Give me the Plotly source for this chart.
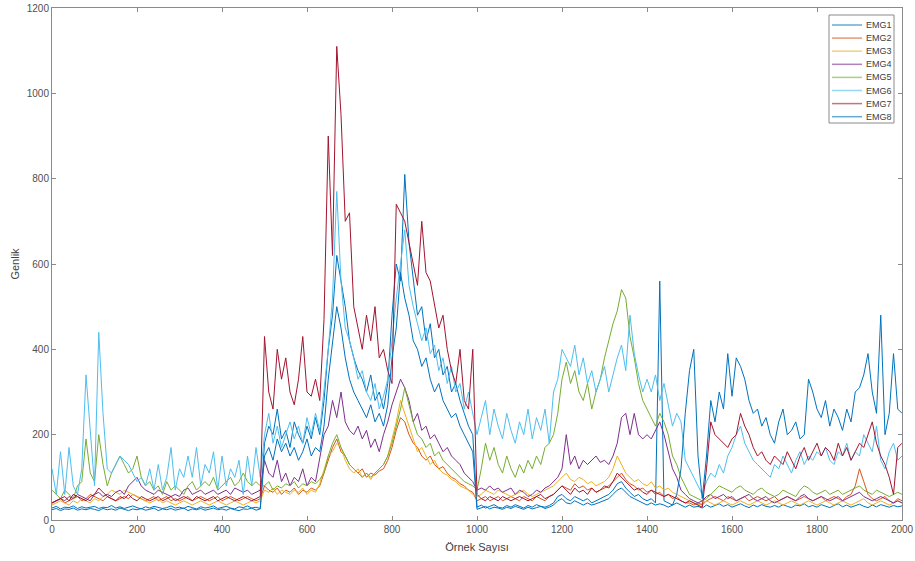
import plotly.graph_objects as go

samples = list(range(0, 2001, 10))

emg1 = [28,32,26,30,29,33,27,31,28,30,
        32,27,30,29,34,28,31,27,30,33,
        29,26,31,28,32,30,27,29,33,28,
        30,27,32,29,26,31,28,30,33,27,
        29,32,28,26,31,29,33,28,30,27,
        180,220,200,260,190,210,170,230,200,180,
        220,190,240,200,280,400,480,620,560,500,
        420,380,350,330,300,340,280,300,260,320,
        480,600,560,810,650,560,480,500,420,460,
        380,400,340,360,300,320,280,250,220,200,
        30,35,28,32,36,30,28,34,30,36,
        32,28,34,30,36,32,30,34,40,55,
        60,50,45,55,50,45,50,40,45,50,
        55,60,70,85,90,75,65,55,60,50,
        45,50,40,560,45,40,35,40,35,30,
        35,30,32,28,35,30,34,38,32,36,
        30,34,38,33,29,35,31,36,32,30,
        34,30,36,32,29,35,33,38,31,34,
        30,36,32,29,34,38,31,35,30,33,
        37,32,29,35,31,36,33,30,34,31,
        33]

emg2 = [40,45,50,40,45,50,55,45,50,60,
        55,50,45,55,50,45,50,55,50,60,
        55,50,45,50,55,45,50,55,45,50,
        45,50,55,45,50,55,50,45,50,55,
        45,50,55,50,45,50,55,50,45,50,
        80,70,65,75,60,70,65,75,60,70,
        65,75,70,80,110,140,170,190,160,150,
        130,120,110,120,100,110,105,115,120,140,
        170,210,240,230,200,180,170,150,140,150,
        130,120,125,110,100,95,85,80,70,65,
        45,50,55,45,50,55,45,50,55,50,
        45,55,50,45,55,50,45,55,60,70,
        80,75,70,85,75,80,70,75,65,70,
        75,80,90,100,110,95,85,80,70,75,
        65,70,60,65,55,60,50,55,45,40,
        40,35,40,35,45,50,55,50,45,55,
        50,45,50,55,45,50,55,50,45,50,
        55,45,50,55,50,45,50,55,50,45,
        50,55,45,50,55,50,45,55,60,80,
        120,90,60,50,45,50,55,45,40,50,
        45]

emg3 = [35,40,45,40,35,45,40,50,45,40,
        50,45,55,60,70,65,60,70,65,60,
        55,50,45,40,45,50,40,45,40,35,
        40,45,40,35,40,45,40,35,40,45,
        40,35,40,45,40,35,40,45,40,45,
        70,65,75,60,70,65,60,70,65,75,
        60,70,65,85,120,150,160,180,170,140,
        120,110,120,100,110,95,110,120,130,150,
        190,230,280,250,220,190,160,170,150,130,
        140,120,110,105,95,90,80,75,70,60,
        55,60,70,65,60,70,65,60,55,60,
        65,70,60,55,60,65,70,75,80,90,
        100,110,95,90,100,95,85,90,80,85,
        90,100,120,150,130,110,100,90,95,85,
        80,90,75,80,70,75,65,60,55,50,
        45,40,35,40,45,40,35,40,45,40,
        35,40,45,40,35,40,45,40,35,40,
        45,40,35,40,45,40,35,40,45,40,
        35,40,45,40,35,40,45,40,35,40,
        45,50,40,35,40,45,40,35,40,45,
        40]

emg4 = [40,45,50,45,55,50,60,55,50,45,
        60,65,55,60,55,65,70,60,80,90,
        100,80,70,65,60,70,65,60,55,60,
        55,70,75,60,65,70,60,65,70,60,
        65,70,60,75,70,65,70,60,65,70,
        140,110,100,140,90,110,80,100,90,120,
        80,100,90,150,200,220,280,240,300,230,
        210,200,220,190,210,170,190,160,200,230,
        270,300,330,310,280,230,250,210,220,190,
        200,180,160,170,150,140,130,110,100,90,
        70,75,70,80,70,75,65,70,75,60,
        70,65,55,60,70,65,75,80,90,100,
        120,200,130,150,120,140,130,140,150,135,
        140,130,150,180,240,250,200,250,200,190,
        200,190,210,230,200,160,120,100,70,60,
        50,45,40,45,55,60,50,55,60,50,
        55,45,50,55,60,50,45,50,55,45,
        40,45,50,55,50,45,55,60,50,45,
        50,55,50,45,50,55,45,50,55,60,
        65,55,50,45,50,55,50,45,40,45,
        40]

emg5 = [70,60,50,70,60,50,80,90,190,110,
        90,200,130,80,110,130,150,130,110,120,
        150,100,80,90,70,80,60,90,70,80,
        70,60,80,90,70,80,90,80,100,70,
        80,90,100,80,90,110,90,80,90,80,
        80,90,70,80,75,85,80,90,75,85,
        80,90,85,95,110,150,180,200,170,150,
        130,120,110,100,110,100,110,120,130,150,
        180,220,260,310,270,230,200,190,170,180,
        150,160,140,130,120,110,100,90,85,80,
        70,120,180,140,170,130,110,150,120,100,
        130,110,140,120,150,130,170,180,200,250,
        330,370,320,350,300,280,320,260,300,330,
        380,420,460,490,540,520,430,380,320,280,
        260,240,220,250,230,200,150,130,100,80,
        60,55,50,45,50,60,70,80,75,70,
        65,75,80,70,65,60,70,75,65,60,
        55,60,70,65,60,55,70,80,75,65,
        60,65,70,60,65,70,60,65,70,75,
        80,70,65,60,70,65,60,55,60,65,
        60]

emg6 = [120,60,160,60,170,80,60,120,340,200,
        80,440,250,120,110,130,150,140,130,110,
        90,100,80,120,70,130,70,100,170,70,
        120,100,150,100,170,80,130,110,160,70,
        150,80,120,100,140,60,150,80,170,100,
        200,250,180,220,170,200,230,190,220,180,
        240,200,250,210,300,400,520,770,560,450,
        420,380,330,350,300,280,320,260,290,330,
        420,520,600,680,550,500,460,420,450,390,
        410,350,380,320,360,300,320,260,300,250,
        200,240,280,200,260,220,190,250,210,180,
        230,200,260,190,240,210,260,180,300,330,
        400,380,360,410,340,380,320,350,300,330,
        360,300,340,380,410,350,480,390,340,300,
        330,300,340,280,320,270,220,250,230,140,
        120,100,80,60,90,110,100,130,110,150,
        170,200,220,180,160,140,130,120,110,100,
        130,120,150,130,110,140,160,130,150,140,
        160,150,170,140,130,160,150,180,140,160,
        150,200,180,160,220,140,120,160,180,140,
        150]

emg7 = [40,45,50,55,45,60,55,50,45,55,
        60,75,65,55,50,45,55,50,60,50,
        45,55,50,45,50,55,45,50,55,45,
        50,55,50,45,55,50,45,50,55,45,
        50,55,50,45,50,55,50,45,50,55,
        430,300,260,400,330,380,300,270,330,430,
        300,290,330,280,470,900,620,1110,950,700,
        720,500,450,400,480,420,500,380,400,350,
        320,740,720,700,650,600,550,700,580,560,
        500,450,480,400,350,320,400,280,260,400,
        60,50,45,55,50,45,55,50,45,50,
        55,50,45,50,55,60,50,55,60,70,
        80,70,60,75,65,70,60,75,65,70,
        80,75,90,110,100,90,80,70,75,65,
        60,70,65,60,55,60,55,50,45,40,
        45,40,35,30,120,230,200,190,180,170,
        190,200,250,220,200,170,150,160,140,130,
        150,140,130,160,140,120,150,170,140,160,
        180,150,170,160,140,180,150,170,140,160,
        180,170,200,230,180,150,130,100,60,170,
        180]

emg8 = [24,27,22,26,25,28,23,26,24,27,
        25,22,27,24,26,23,28,25,22,26,
        24,27,23,25,28,22,26,24,27,23,
        25,28,22,26,24,27,23,25,28,24,
        26,23,27,24,22,26,25,28,23,26,
        150,170,140,190,160,180,150,170,140,160,
        190,150,170,160,220,330,420,500,450,380,
        330,300,280,260,240,270,230,250,220,270,
        380,450,580,520,480,420,400,360,380,330,
        300,320,280,260,240,250,220,200,180,160,
        25,28,32,26,30,28,25,30,27,32,
        28,25,30,26,29,32,27,30,35,45,
        50,40,38,45,40,35,40,35,38,42,
        45,50,60,70,75,65,55,50,45,40,
        35,40,35,38,35,30,35,60,120,250,
        350,400,150,50,150,280,230,300,260,390,
        290,380,360,330,280,250,260,220,240,200,
        180,230,260,200,210,230,190,200,330,300,
        260,240,280,220,260,240,210,260,230,300,
        310,340,390,300,250,480,200,250,390,260,
        250]

series_names = ["EMG1", "EMG2", "EMG3", "EMG4", "EMG5", "EMG6", "EMG7", "EMG8"]
series_values = [emg1, emg2, emg3, emg4, emg5, emg6, emg7, emg8]
colors = ["#0072BD", "#D95319", "#EDB120", "#7E2F8E",
          "#77AC30", "#4DBEEE", "#A2142F", "#0072BD"]

x_ticks = [0, 200, 400, 600, 800, 1000, 1200, 1400, 1600, 1800, 2000]
y_ticks = [0, 200, 400, 600, 800, 1000, 1200]

fig = go.Figure()
for name, vals, col in zip(series_names, series_values, colors):
    fig.add_trace(go.Scatter(x=samples, y=vals, mode="lines", name=name,
                             line=dict(color=col, width=1), showlegend=False))

axis_common = dict(showgrid=False, zeroline=False, showline=True, mirror="ticks",
                   linecolor="#8a8a8a", linewidth=1, ticks="inside", ticklen=4,
                   tickcolor="#8a8a8a", automargin=False,
                   tickfont=dict(size=10, color="#505050"))

# plot area: 52..902 px horizontally, 8..520 px vertically
L, R, T, B = 52, 13, 8, 41
W, H = 915, 561
pw, ph = W - L - R, H - T - B

def px_to_paper_x(px):
    return (px - L) / pw

def py_to_paper_y(py):
    return (H - B - py) / ph

shapes = [dict(type="rect", xref="paper", yref="paper",
               x0=px_to_paper_x(829), x1=px_to_paper_x(894),
               y0=py_to_paper_y(123), y1=py_to_paper_y(15),
               line=dict(color="#8a8a8a", width=1), fillcolor="white", layer="above")]
annotations = []
for i, (name, col) in enumerate(zip(series_names, colors)):
    yy = py_to_paper_y(25 + i * 13.1)
    shapes.append(dict(type="line", xref="paper", yref="paper",
                       x0=px_to_paper_x(832), x1=px_to_paper_x(862), y0=yy, y1=yy,
                       line=dict(color=col, width=1.5), opacity=0.6, layer="above"))
    annotations.append(dict(xref="paper", yref="paper", x=px_to_paper_x(864), y=yy,
                            text=name, showarrow=False, xanchor="left", yanchor="middle",
                            font=dict(size=9, color="#404040")))

fig.update_layout(
    width=W, height=H,
    paper_bgcolor="white", plot_bgcolor="white",
    font=dict(family="Liberation Sans, Arial, sans-serif", color="#404040"),
    margin=dict(l=L, r=R, t=T, b=B),
    xaxis=dict(range=[0, 2000], tickvals=x_ticks,
               title=dict(text="Örnek Sayısı", font=dict(size=11), standoff=9),
               **axis_common),
    yaxis=dict(range=[0, 1200], tickvals=y_ticks,
               title=dict(text="Genlik", font=dict(size=11), standoff=4),
               **axis_common),
    shapes=shapes,
    annotations=annotations,
    showlegend=False,
)

fig.write_html("out.html", config={"displayModeBar": False},
               post_script="document.body.style.margin='0';document.body.style.padding='0';")
